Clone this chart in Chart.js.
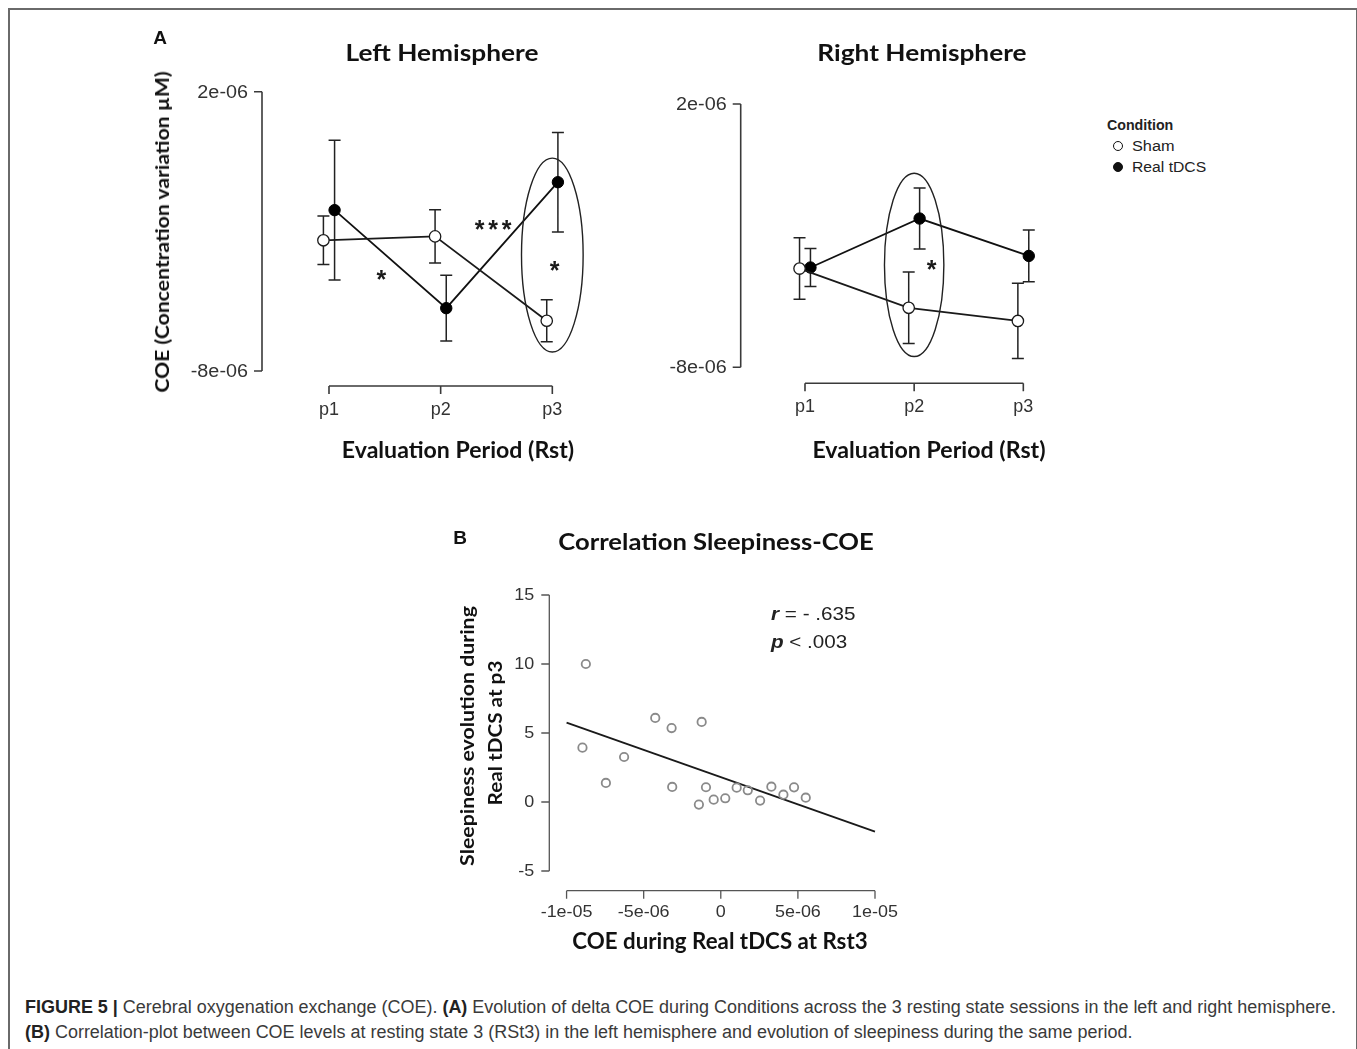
<!DOCTYPE html>
<html>
<head>
<meta charset="utf-8">
<script src="https://cdn.jsdelivr.net/npm/chart.js@4.4.1/dist/chart.umd.min.js"></script>
<style>
  body { margin: 0; background: #fff; width: 1357px; height: 1049px; overflow: hidden; position: relative; font-family: "Liberation Sans", Arial, sans-serif; }
  canvas { position: absolute; }
  .t { position: absolute; white-space: nowrap; line-height: 1; color: #111; }
  .c { transform: translate(-50%, -50%); }
  .l { transform: translate(0, -50%); transform-origin: 0 50%; }
  .cal { font-family: Lato, "Open Sans", sans-serif; font-weight: 700; }
  .frame { position: absolute; left: 8px; top: 8px; width: 1346px; height: 1100px; border: 2px solid #6a6a6a; }
  .dot { position: absolute; width: 10px; height: 10px; border-radius: 50%; border: 1.3px solid #111; box-sizing: border-box; transform: translate(-50%, -50%); }
  .cap { font-family: "Liberation Sans Narrow", "Liberation Sans", sans-serif; font-size: 18px; color: #3a3a3a; }
</style>
</head>
<body>
<div class="frame"></div>

<canvas id="leftHemi" width="470" height="460" style="left:150px;top:20px"></canvas>
<canvas id="rightHemi" width="440" height="460" style="left:640px;top:20px"></canvas>
<canvas id="corr" width="480" height="450" style="left:440px;top:520px"></canvas>

<!-- panel A text -->
<div class="t c" style="left:160px;top:37px;font-weight:700;font-size:19px">A</div>
<div class="t c cal" data-w="193" data-base="translate(-50%,-50%)" style="left:442px;top:52px;font-size:23px">Left Hemisphere</div>
<div class="t c cal" data-w="209" data-base="translate(-50%,-50%)" style="left:922px;top:52px;font-size:23px">Right Hemisphere</div>
<div class="t c cal" data-w="321" data-base="translate(-50%,-50%) rotate(-90deg)" style="left:162px;top:232px;font-size:18px">COE (Concentration variation µM)</div>
<div class="t c cal" data-w="232" data-base="translate(-50%,-50%)" style="left:458px;top:450px;font-size:22px">Evaluation Period (Rst)</div>
<div class="t c cal" data-w="233" data-base="translate(-50%,-50%)" style="left:929px;top:450px;font-size:22px">Evaluation Period (Rst)</div>

<!-- legend -->
<div class="t l" data-w="66" data-base="translate(0,-50%)" style="left:1107px;top:125px;font-size:14px;font-weight:700;color:#222">Condition</div>
<div class="dot" style="left:1118px;top:146px;background:#fff"></div>
<div class="t l" data-w="43" data-base="translate(0,-50%)" style="left:1132px;top:146px;font-size:14px;color:#222">Sham</div>
<div class="dot" style="left:1118px;top:167px;background:#111"></div>
<div class="t l" data-w="74" data-base="translate(0,-50%)" style="left:1132px;top:167px;font-size:14px;color:#222">Real tDCS</div>

<!-- panel B text -->
<div class="t c" style="left:460px;top:537px;font-weight:700;font-size:19px">B</div>
<div class="t c cal" data-w="315" data-base="translate(-50%,-50%)" style="left:716px;top:541px;font-size:23px">Correlation Sleepiness-COE</div>
<div class="t c cal" data-w="260" data-base="translate(-50%,-50%) rotate(-90deg)" style="left:466px;top:736px;font-size:19px">Sleepiness evolution during</div>
<div class="t c cal" data-w="145" data-base="translate(-50%,-50%) rotate(-90deg)" style="left:494px;top:733px;font-size:19px">Real tDCS at p3</div>
<div class="t c cal" data-w="295" data-base="translate(-50%,-50%)" style="left:720px;top:941px;font-size:22px">COE during Real tDCS at Rst3</div>
<div class="t l" data-w="85" data-base="translate(0,-50%)" style="left:771px;top:613px;font-size:19px;color:#222"><b><i>r</i></b> = - .635</div>
<div class="t l" data-w="76" data-base="translate(0,-50%)" style="left:771px;top:641px;font-size:19px;color:#222"><b><i>p</i></b> &lt; .003</div>

<!-- caption -->
<div class="t l cap" data-w="1312" data-base="translate(0,-50%)" style="left:25px;top:1007px"><b style="color:#222">FIGURE 5 |</b> Cerebral oxygenation exchange (COE). <b style="color:#222">(A)</b> Evolution of delta COE during Conditions across the 3 resting state sessions in the left and right hemisphere.</div>
<div class="t l cap" data-w="1108" data-base="translate(0,-50%)" style="left:25px;top:1032px"><b style="color:#222">(B)</b> Correlation-plot between COE levels at resting state 3 (RSt3) in the left hemisphere and evolution of sleepiness during the same period.</div>

<script>
// ---- data ----
const periods = ['p1', 'p2', 'p3'];
const periodPos = [1, 2, 3];

const leftSham = [-3.32e-6, -3.18e-6, -6.2e-6];
const leftShamErr = [0.87e-6, 0.95e-6, 0.75e-6];
const leftReal = [-2.24e-6, -5.75e-6, -1.24e-6];
const leftRealErr = [2.5e-6, 1.18e-6, 1.78e-6];

const rightSham = [-4.25e-6, -5.74e-6, -6.24e-6];
const rightShamErr = [1.17e-6, 1.36e-6, 1.43e-6];
const rightReal = [-4.21e-6, -2.35e-6, -3.77e-6];
const rightRealErr = [0.72e-6, 1.16e-6, 0.98e-6];

const coeTicks = [-8e-6, 2e-6];
const coeTickLabels = ['-8e-06', '2e-06'];

const corrX = [-8.75e-6, -8.97e-6, -7.45e-6, -6.27e-6, -4.25e-6, -3.19e-6, -3.15e-6, -1.24e-6, -1.42e-6, -0.96e-6,
               -0.46e-6, 0.29e-6, 1.03e-6, 1.75e-6, 2.55e-6, 3.28e-6, 4.06e-6, 4.75e-6, 5.51e-6];
const corrY = [10, 3.94, 1.38, 3.26, 6.09, 5.36, 1.09, 5.8, -0.19, 1.07,
               0.17, 0.27, 1.04, 0.85, 0.1, 1.11, 0.53, 1.06, 0.31];
const fitX = [-1e-5, 1e-5];
const fitY = [5.75, -2.15];
const corrXTicks = [-1e-5, -5e-6, 0, 5e-6, 1e-5];
const corrXLabels = ['-1e-05', '-5e-06', '0', '5e-06', '1e-05'];
const corrYTicks = [-5, 0, 5, 10, 15];
const corrYLabels = ['-5', '0', '5', '10', '15'];

// significance marks and the highlight ellipses (data units)
const leftStars = [{x: 1.47, y: -4.51e-6, n: 1}, {x: 2.47, y: -2.74e-6, n: 3}, {x: 3.02, y: -4.21e-6, n: 1}];
const leftEllipse = {x: 3, y: -3.85e-6, rx: 0.276, ry: 3.47e-6};
const rightStars = [{x: 2.16, y: -4.09e-6, n: 1}];
const rightEllipse = {x: 2, y: -4.11e-6, rx: 0.272, ry: 3.48e-6};

const dodge = 0.05;

// ---- helpers ----
function rAxes(cfg) {
  return {
    id: 'rAxes',
    afterDraw(chart) {
      const {ctx, chartArea: a, scales: {x, y}} = chart;
      ctx.save();
      ctx.strokeStyle = cfg.color;
      ctx.lineWidth = cfg.lw;
      ctx.beginPath();
      const yy = cfg.yTicks.map(v => y.getPixelForValue(v));
      ctx.moveTo(a.left, Math.min(...yy));
      ctx.lineTo(a.left, Math.max(...yy));
      yy.forEach(p => { ctx.moveTo(a.left, p); ctx.lineTo(a.left - cfg.tick, p); });
      const base = a.bottom + cfg.xGap;
      const xx = cfg.xTicks.map(v => x.getPixelForValue(v));
      ctx.moveTo(Math.min(...xx), base);
      ctx.lineTo(Math.max(...xx), base);
      xx.forEach(p => { ctx.moveTo(p, base); ctx.lineTo(p, base + cfg.tick); });
      ctx.stroke();

      ctx.fillStyle = cfg.text;
      ctx.font = cfg.font;
      ctx.textBaseline = 'middle';
      const put = (s, px, py, align, sx) => {
        ctx.save();
        ctx.translate(px, py);
        ctx.scale(sx, 1);
        ctx.textAlign = align;
        ctx.fillText(s, 0, 0);
        ctx.restore();
      };
      yy.forEach((p, i) => put(cfg.yLabels[i], a.left - cfg.yLabelGap, p + 1, 'right', cfg.sx));
      xx.forEach((p, i) => put(cfg.xLabels[i], p, base + cfg.xLabelGap, 'center', cfg.sxX || cfg.sx));
      ctx.restore();
    }
  };
}

function errorBars(errs) {
  return {
    id: 'errorBars',
    beforeDatasetsDraw(chart) {
      const {ctx, scales: {x, y}} = chart;
      ctx.save();
      ctx.strokeStyle = '#222';
      ctx.lineWidth = 1.5;
      ctx.beginPath();
      errs.forEach((e, di) => {
        if (!e) return;
        chart.data.datasets[di].data.forEach((pt, i) => {
          const px = x.getPixelForValue(pt.x);
          const top = y.getPixelForValue(pt.y + e[i]);
          const bot = y.getPixelForValue(pt.y - e[i]);
          ctx.moveTo(px, top); ctx.lineTo(px, bot);
          ctx.moveTo(px - 6, top); ctx.lineTo(px + 6, top);
          ctx.moveTo(px - 6, bot); ctx.lineTo(px + 6, bot);
        });
      });
      ctx.stroke();
      ctx.restore();
    }
  };
}

function marks(stars, ell) {
  return {
    id: 'marks',
    afterDatasetsDraw(chart) {
      const {ctx, scales: {x, y}} = chart;
      ctx.save();
      if (ell) {
        const cx = x.getPixelForValue(ell.x), cy = y.getPixelForValue(ell.y);
        const rx = x.getPixelForValue(ell.x + ell.rx) - cx;
        const ry = cy - y.getPixelForValue(ell.y + ell.ry);
        ctx.strokeStyle = '#222';
        ctx.lineWidth = 1.4;
        ctx.beginPath();
        ctx.ellipse(cx, cy, rx, ry, 0, 0, Math.PI * 2);
        ctx.stroke();
      }
      ctx.fillStyle = '#1a1a1a';
      ctx.font = 'bold 25px "Liberation Sans", Arial, sans-serif';
      ctx.textAlign = 'center';
      ctx.textBaseline = 'alphabetic';
      stars.forEach(s => {
        const cx = x.getPixelForValue(s.x), cy = y.getPixelForValue(s.y);
        for (let k = 0; k < s.n; k++) {
          ctx.fillText('*', cx + (k - (s.n - 1) / 2) * 13.5, cy + 14);
        }
      });
      ctx.restore();
    }
  };
}

function pts(xs, ys, off) {
  return xs.map((v, i) => ({x: v + off, y: ys[i]}));
}

function hemiChart(id, sham, shamErr, real, realErr, pad, xr, gap, stars, ell) {
  return new Chart(document.getElementById(id), {
    type: 'scatter',
    data: {
      datasets: [
        {
          label: 'Sham',
          data: pts(periodPos, sham, -dodge),
          showLine: true,
          borderColor: '#1a1a1a',
          borderWidth: 1.8,
          pointRadius: 5.7,
          pointBackgroundColor: '#fff',
          pointBorderColor: '#1a1a1a',
          pointBorderWidth: 1.3,
          clip: false
        },
        {
          label: 'Real tDCS',
          data: pts(periodPos, real, dodge),
          showLine: true,
          borderColor: '#111',
          borderWidth: 1.8,
          pointRadius: 5.7,
          pointBackgroundColor: '#000',
          pointBorderColor: '#000',
          pointBorderWidth: 1,
          clip: false
        }
      ]
    },
    options: {
      responsive: false,
      animation: false,
      layout: {padding: pad},
      plugins: {legend: {display: false}, tooltip: {enabled: false}},
      scales: {
        x: {type: 'linear', min: xr[0], max: xr[1], display: false},
        y: {type: 'linear', min: coeTicks[0], max: coeTicks[1], display: false}
      }
    },
    plugins: [
      errorBars([shamErr, realErr]),
      marks(stars, ell),
      rAxes({
        color: '#3a3a3a', lw: 1.6, tick: 8, xGap: gap,
        yTicks: coeTicks, yLabels: coeTickLabels, yLabelGap: 14,
        xTicks: periodPos, xLabels: periods, xLabelGap: 24,
        text: '#333', font: '18px "Liberation Sans", Arial, sans-serif', sx: 1.1, sxX: 1.0
      })
    ]
  });
}

hemiChart('leftHemi', leftSham, leftShamErr, leftReal, leftRealErr,
  {left: 112, top: 71.7, right: 20, bottom: 109}, [0.4, 3.427], 15, leftStars, leftEllipse);
hemiChart('rightHemi', rightSham, rightShamErr, rightReal, rightRealErr,
  {left: 100.7, top: 84, right: 20, bottom: 112.7}, [0.411, 3.336], 16, rightStars, rightEllipse);

new Chart(document.getElementById('corr'), {
  type: 'scatter',
  data: {
    datasets: [
      {
        label: 'Subjects',
        data: corrX.map((v, i) => ({x: v, y: corrY[i]})),
        pointRadius: 4.2,
        pointBackgroundColor: 'rgba(255,255,255,0)',
        pointBorderColor: '#8a8a8a',
        pointBorderWidth: 1.8,
        clip: false
      },
      {
        label: 'Fit',
        data: fitX.map((v, i) => ({x: v, y: fitY[i]})),
        showLine: true,
        borderColor: '#1a1a1a',
        borderWidth: 1.8,
        pointRadius: 0,
        clip: false
      }
    ]
  },
  options: {
    responsive: false,
    animation: false,
    layout: {padding: {left: 109.3, top: 75, right: 45, bottom: 99}},
    plugins: {legend: {display: false}, tooltip: {enabled: false}},
    scales: {
      x: {type: 'linear', min: -1.112e-5, max: 1e-5, display: false},
      y: {type: 'linear', min: -5, max: 15, display: false}
    }
  },
  plugins: [
    rAxes({
      color: '#555', lw: 1.3, tick: 8, xGap: 19.7,
      yTicks: corrYTicks, yLabels: corrYLabels, yLabelGap: 15,
      xTicks: corrXTicks, xLabels: corrXLabels, xLabelGap: 22,
      text: '#333', font: '16px "Liberation Sans", Arial, sans-serif', sx: 1.12
    })
  ]
});

// stretch labels to the widths they have in the figure
document.querySelectorAll('[data-w]').forEach(el => {
  const s = +el.dataset.w / el.offsetWidth;
  el.style.transform = el.dataset.base + ' scaleX(' + s.toFixed(3) + ')';
});
</script>
</body>
</html>
